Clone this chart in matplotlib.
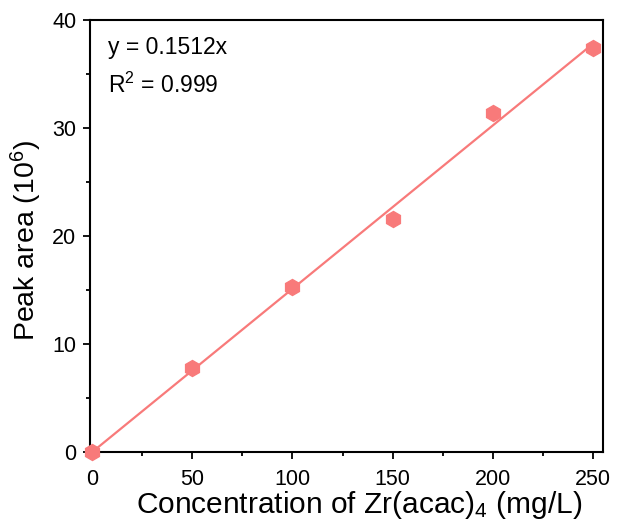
import numpy as np
import matplotlib
matplotlib.use("Agg")
import matplotlib.pyplot as plt
from matplotlib.ticker import MultipleLocator

conc = [0, 50, 100, 150, 200, 250]
area = [0, 7.8, 15.3, 21.6, 31.4, 37.4]
slope = 0.1512

plt.rcParams['font.family'] = ['Liberation Sans', 'DejaVu Sans']
plt.rcParams['mathtext.fontset'] = 'custom'
plt.rcParams['mathtext.rm'] = 'Liberation Sans'
plt.rcParams['mathtext.it'] = 'Liberation Sans'

fig = plt.figure(figsize=(6.21, 5.27), dpi=100)
ax = fig.add_axes([0.145, 0.142, 0.826, 0.820])

color = '#F87A7A'
xfit = np.array([0, 250])
ax.plot(xfit, slope * xfit, color=color, lw=1.6, zorder=2)
ax.plot(conc, area, 'h', color=color, ms=11.5, zorder=3, clip_on=False)

ax.set_xlim(-1, 255)
ax.set_ylim(0, 40)
ax.xaxis.set_major_locator(MultipleLocator(50))
ax.xaxis.set_minor_locator(MultipleLocator(25))
ax.yaxis.set_major_locator(MultipleLocator(10))
ax.yaxis.set_minor_locator(MultipleLocator(5))
ax.tick_params(which='both', direction='out', width=1.3, labelsize=15.5, top=False, right=False)
ax.tick_params(which='major', length=5)
ax.tick_params(axis='x', which='major', pad=7)
ax.tick_params(axis='y', which='major', pad=5)
ax.tick_params(which='minor', length=3)
for s in ax.spines.values():
    s.set_linewidth(1.5)

ax.set_xlabel('Concentration of Zr(acac)$_\\mathrm{4}$ (mg/L)', fontsize=21.5)
ax.xaxis.set_label_coords(0.525, -0.085)
ax.xaxis.label.set_va('top')
ax.set_ylabel('Peak area (10$^\\mathrm{6}$)', fontsize=20.5)
ax.yaxis.set_label_coords(-0.09, 0.49)

ax.text(0.035, 0.937, 'y = 0.1512x', transform=ax.transAxes, fontsize=16.5, va='center')
ax.text(0.035, 0.85, 'R$^\\mathrm{2}$ = 0.999', transform=ax.transAxes, fontsize=16.5, va='center')

fig.savefig('out.png', dpi=100)
